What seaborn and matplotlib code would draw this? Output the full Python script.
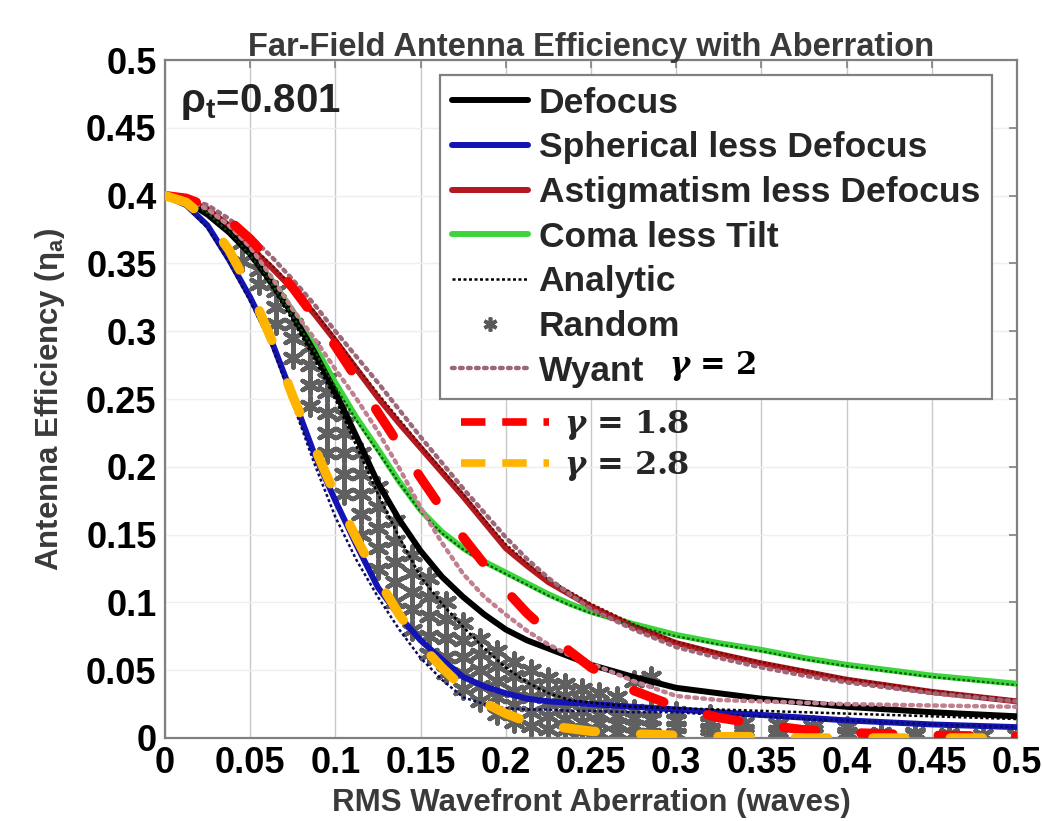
import numpy as np
import pandas as pd
import matplotlib
matplotlib.use("Agg")
import matplotlib.pyplot as plt
from matplotlib.lines import Line2D
import seaborn as sns

# ---------------- data ----------------
x_grid = [0, 0.0125, 0.025, 0.0375, 0.05, 0.0625, 0.075, 0.0875, 0.1, 0.1125, 0.125, 0.1375, 0.15,
          0.1625, 0.175, 0.1875, 0.2, 0.2125, 0.225, 0.2375, 0.25, 0.275, 0.3, 0.325, 0.35, 0.375,
          0.4, 0.45, 0.5]

defocus = [0.400, 0.396, 0.386, 0.373, 0.357, 0.336, 0.312, 0.285, 0.255, 0.222, 0.188, 0.161, 0.138,
           0.119, 0.104, 0.091, 0.080, 0.072, 0.066, 0.060, 0.054, 0.045, 0.037, 0.033, 0.029, 0.026,
           0.023, 0.019, 0.016]
spherical = [0.400, 0.393, 0.378, 0.353, 0.325, 0.293, 0.252, 0.210, 0.175, 0.142, 0.111, 0.090, 0.072,
             0.058, 0.045, 0.038, 0.033, 0.029, 0.027, 0.026, 0.025, 0.023, 0.021, 0.019, 0.017, 0.015,
             0.013, 0.010, 0.008]
astig = [0.400, 0.397, 0.390, 0.378, 0.362, 0.347, 0.331, 0.313, 0.293, 0.272, 0.251, 0.232, 0.214,
         0.196, 0.178, 0.159, 0.140, 0.127, 0.115, 0.106, 0.097, 0.082, 0.070, 0.062, 0.055, 0.049,
         0.043, 0.034, 0.027]
coma = [0.400, 0.396, 0.388, 0.375, 0.358, 0.338, 0.315, 0.290, 0.262, 0.236, 0.213, 0.189, 0.168,
        0.152, 0.140, 0.130, 0.122, 0.114, 0.106, 0.099, 0.093, 0.084, 0.076, 0.070, 0.065, 0.059,
        0.054, 0.046, 0.040]

analytic_defocus = [0.400, 0.395, 0.385, 0.372, 0.355, 0.333, 0.308, 0.280, 0.250, 0.215, 0.180, 0.148,
                    0.119, 0.099, 0.082, 0.066, 0.052, 0.041, 0.033, 0.028, 0.026, 0.023, 0.022, 0.021,
                    0.020, 0.019, 0.018, 0.016, 0.014]
analytic_spherical = [0.400, 0.392, 0.376, 0.351, 0.322, 0.290, 0.247, 0.203, 0.163, 0.131, 0.104, 0.080,
                      0.059, 0.043, 0.030, 0.025, 0.022, 0.021, 0.021, 0.020, 0.020, 0.019, 0.019, 0.017,
                      0.016, 0.014, 0.013, 0.010, 0.008]
analytic_astig = [0.400, 0.397, 0.391, 0.379, 0.364, 0.349, 0.333, 0.315, 0.295, 0.274, 0.254, 0.235,
                  0.216, 0.198, 0.180, 0.161, 0.143, 0.129, 0.117, 0.108, 0.099, 0.084, 0.071, 0.063,
                  0.056, 0.050, 0.044, 0.035, 0.028]
analytic_coma = [0.400, 0.395, 0.387, 0.373, 0.356, 0.335, 0.311, 0.286, 0.259, 0.234, 0.211, 0.188,
                 0.167, 0.151, 0.139, 0.129, 0.121, 0.113, 0.105, 0.098, 0.092, 0.083, 0.075, 0.069,
                 0.064, 0.058, 0.053, 0.045, 0.039]

wyant_outer = [0.400, 0.398, 0.393, 0.383, 0.370, 0.355, 0.338, 0.320, 0.300, 0.281, 0.262, 0.242, 0.222,
               0.203, 0.184, 0.166, 0.148, 0.132, 0.118, 0.106, 0.095, 0.080, 0.067, 0.059, 0.052, 0.046,
               0.041, 0.033, 0.027]
wyant_inner = [0.400, 0.397, 0.390, 0.378, 0.362, 0.340, 0.316, 0.295, 0.272, 0.250, 0.226, 0.199, 0.170,
               0.144, 0.121, 0.104, 0.091, 0.079, 0.069, 0.061, 0.055, 0.042, 0.031, 0.028, 0.027, 0.026,
               0.025, 0.024, 0.023]

gamma18 = [0.400, 0.398, 0.392, 0.382, 0.368, 0.351, 0.332, 0.311, 0.289, 0.265, 0.240, 0.216, 0.192,
           0.169, 0.148, 0.128, 0.109, 0.092, 0.078, 0.064, 0.052, 0.035, 0.023, 0.015, 0.010, 0.006,
           0.004, 0.002, 0.001]
gamma28 = [0.400, 0.395, 0.382, 0.360, 0.331, 0.294, 0.252, 0.215, 0.179, 0.147, 0.117, 0.091, 0.069,
           0.052, 0.037, 0.026, 0.018, 0.012, 0.009, 0.007, 0.005, 0.003, 0.002, 0.001, 0.001, 0.000,
           0.000, 0.000, 0.000]

rand_cols = [0.045, 0.055, 0.065, 0.075, 0.085, 0.095, 0.105, 0.115, 0.125, 0.135, 0.145, 0.155, 0.165,
             0.175, 0.185, 0.195, 0.205, 0.215, 0.225, 0.235, 0.245, 0.255, 0.265, 0.275, 0.285, 0.3,
             0.32, 0.34, 0.36, 0.38, 0.4, 0.42, 0.44, 0.46, 0.48, 0.5]
rand_rows = [
    [0.352, 0.365], [0.335, 0.345], [0.305, 0.318, 0.33], [0.28, 0.295, 0.305],
    [0.245, 0.26, 0.275, 0.288], [0.21, 0.225, 0.24, 0.255, 0.265], [0.18, 0.195, 0.21, 0.225, 0.238],
    [0.15, 0.165, 0.18, 0.195, 0.21], [0.125, 0.14, 0.155, 0.17, 0.185], [0.1, 0.115, 0.13, 0.145, 0.16],
    [0.08, 0.095, 0.108, 0.122, 0.135], [0.062, 0.075, 0.09, 0.104, 0.118], [0.048, 0.06, 0.074, 0.088, 0.1],
    [0.036, 0.048, 0.06, 0.072, 0.085], [0.027, 0.038, 0.05, 0.062, 0.073], [0.018, 0.03, 0.042, 0.053, 0.064],
    [0.012, 0.024, 0.035, 0.046, 0.056], [0.009, 0.019, 0.03, 0.04, 0.05], [0.007, 0.016, 0.026, 0.035, 0.044],
    [0.006, 0.014, 0.022, 0.031, 0.04], [0.005, 0.012, 0.02, 0.028, 0.036], [0.004, 0.011, 0.018, 0.025, 0.033],
    [0.004, 0.01, 0.016, 0.023, 0.03], [0.003, 0.009, 0.015, 0.021, 0.042], [0.003, 0.008, 0.014, 0.02, 0.045],
    [0.003, 0.008, 0.013, 0.019], [0.002, 0.007, 0.012, 0.017], [0.002, 0.006, 0.011], [0.002, 0.005, 0.01],
    [0.002, 0.005, 0.009], [0.002, 0.004, 0.008], [0.002, 0.004], [0.002, 0.004], [0.002, 0.003],
    [0.002], [0.002],
]

tick_vals = [0, 0.05, 0.1, 0.15, 0.2, 0.25, 0.3, 0.35, 0.4, 0.45, 0.5]
tick_labels = ["0", "0.05", "0.1", "0.15", "0.2", "0.25", "0.3", "0.35", "0.4", "0.45", "0.5"]

# ---------------- style ----------------
sns.set_theme(style="white")
plt.rcParams["font.family"] = ["Liberation Sans", "DejaVu Sans"]
plt.rcParams["font.weight"] = "bold"
plt.rcParams["mathtext.fontset"] = "dejavuserif"

fig = plt.figure(figsize=(10.42, 8.21), dpi=100)
ax = fig.add_axes([0.1583, 0.1011, 0.8177, 0.8258])

def line(y, color, lw, ls="-", label=None, z=3, **kw):
    sns.lineplot(x=np.array(x_grid), y=np.array(y), ax=ax, color=color, lw=lw,
                 linestyle=ls, label=label, zorder=z, **kw)

# random scatter (asterisks)
rx = [c for c, row in zip(rand_cols, rand_rows) for _ in row]
ry = [v for row in rand_rows for v in row]
sns.scatterplot(x=rx, y=ry, ax=ax, marker=(6, 2, 0), s=170, color="#606060", edgecolor="#606060",
                linewidth=3.2, zorder=2, label="Random")

line(coma, "#3cd63c", 4.3, label="Coma less Tilt", z=3)
line(astig, "#b3191e", 4.3, label="Astigmatism less Defocus", z=3)
line(defocus, "black", 4.3, label="Defocus", z=3)
line(spherical, "#1414b4", 4.3, label="Spherical less Defocus", z=3)

line(analytic_coma, "#0b5a0b", 1.6, ls=(0, (1.2, 1.0)), z=4)
line(analytic_astig, "#6b0c0c", 1.6, ls=(0, (1.2, 1.0)), z=4)
line(analytic_defocus, "black", 1.8, ls=(0, (1.2, 1.0)), label="Analytic", z=4)
line(analytic_spherical, "#0a0a60", 1.8, ls=(0, (1.2, 1.0)), z=4)

line(wyant_outer, "#9c6878", 3.2, ls=(0, (0.6, 1.2)), label="Wyant", z=4, dash_capstyle="round")
line(wyant_inner, "#c08090", 3.2, ls=(0, (0.6, 1.2)), z=4, dash_capstyle="round")

line(gamma18, "#ff0000", 6.8, ls=(0, (3.4, 4.8)), label="g18", z=5, dash_capstyle="round")
line(gamma28, "#ffb400", 6.8, ls=(0, (3.4, 4.8)), label="g28", z=5, dash_capstyle="round")

# ---------------- axes ----------------
ax.set_xlim(0, 0.5)
ax.set_ylim(0, 0.5)
ax.set_xticks(tick_vals)
ax.set_xticklabels(tick_labels)
ax.set_yticks(tick_vals)
ax.set_yticklabels(tick_labels)
ax.tick_params(axis="both", direction="in", length=6, width=1.2, color="#808080",
               labelcolor="black", labelsize=26, top=True, right=True, pad=6)
for sp in ax.spines.values():
    sp.set_color("#808080")
    sp.set_linewidth(1.6)
ax.grid(axis="x", color="#c8c8c8", lw=1.0)
ax.grid(axis="y", color="#efefef", lw=1.0)
ax.set_axisbelow(True)

ax.set_title("Far-Field Antenna Efficiency with Aberration", fontsize=23.5, color="#3a3a3a", pad=3,
             fontweight="bold")
ax.set_xlabel("RMS Wavefront Aberration (waves)", fontsize=22.5, color="#3a3a3a", labelpad=5,
              fontweight="bold")
ax.set_ylabel(r"Antenna Efficiency (η$_\mathregular{a}$)", fontsize=22.5, color="#3a3a3a",
              labelpad=14, fontweight="bold")

ax.text(0.018, 0.967, r"ρ$_\mathregular{t}$=0.801", transform=ax.transAxes, fontsize=29,
        fontweight="bold", va="top", ha="left", color="#222222")

# ---------------- legends ----------------
handles, labels = ax.get_legend_handles_labels()
hmap = dict(zip(labels, handles))
order = ["Defocus", "Spherical less Defocus", "Astigmatism less Defocus", "Coma less Tilt",
         "Analytic", "Random", "Wyant"]
leg_handles = [hmap[k] for k in order]
leg_handles[5] = Line2D([], [], marker=(6, 2, 0), color="#585858", ls="none", markersize=10,
                        markeredgewidth=2.6)
leg1 = ax.legend(leg_handles, order, loc="upper left", bbox_to_anchor=(0.323, 0.978),
                 fontsize=25.5, frameon=True, fancybox=False, edgecolor="#808080", framealpha=1,
                 handlelength=2.15, handletextpad=0.3, labelspacing=0.33, borderpad=0.33,
                 borderaxespad=0)
leg1.get_frame().set_linewidth(1.6)
leg1.set_zorder(10)

g_handles = [Line2D([], [], color="#ff0000", lw=5.5, ls=(0, (3.2, 2.2))),
             Line2D([], [], color="#ffb400", lw=5.5, ls=(0, (3.2, 2.2)))]
leg2 = ax.legend(g_handles, [r"$\gamma$ = 1.8", r"$\gamma$ = 2.8"], loc="upper left",
                 bbox_to_anchor=(0.333, 0.505), frameon=False,
                 prop={"family": "DejaVu Serif", "weight": "bold", "size": 23},
                 handlelength=2.75, handletextpad=0.45, labelspacing=0.2, borderaxespad=0)
leg2.set_zorder(10)
ax.add_artist(leg1)

ax.text(0.592, 0.548, r"$\gamma$ = 2", transform=ax.transAxes, fontsize=22, fontweight="bold",
        family="DejaVu Serif", va="center", ha="left", color="black", zorder=11)

fig.savefig("out.png", dpi=100)
